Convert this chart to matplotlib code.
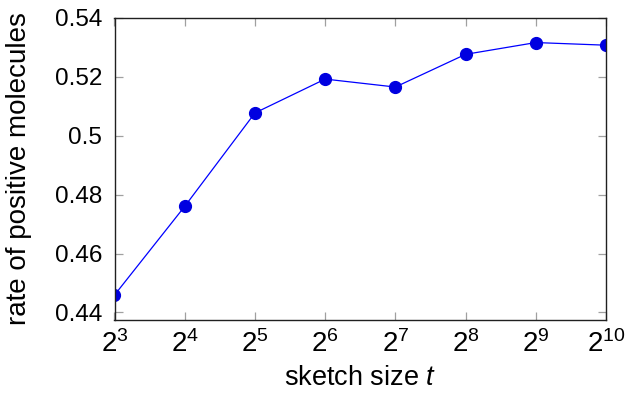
import matplotlib
matplotlib.use("Agg")
import matplotlib.pyplot as plt
from matplotlib.ticker import FixedLocator, FixedFormatter, NullLocator

plt.rcParams['font.family'] = ['Liberation Sans', 'DejaVu Sans']
plt.rcParams['mathtext.fontset'] = 'custom'
plt.rcParams['mathtext.rm'] = 'Liberation Sans'
plt.rcParams['mathtext.it'] = 'Liberation Sans:italic'

# sketch size exponents and measured rate
exponents = [3, 4, 5, 6, 7, 8, 9, 10]
rates = [0.4459, 0.4760, 0.5077, 0.5192, 0.5165, 0.5276, 0.5316, 0.5307]
y_ticks = [0.44, 0.46, 0.48, 0.50, 0.52, 0.54]
y_tick_labels = ['0.44', '0.46', '0.48', '0.5', '0.52', '0.54']

sizes = [2 ** e for e in exponents]

fig = plt.figure(figsize=(6.26, 3.93), dpi=100)
ax = fig.add_axes([114.5 / 626, 1 - 319.5 / 393, (606 - 114.5) / 626, (319.5 - 17.8) / 393])

ax.plot(sizes, rates, color='#0000ff', linewidth=0.9, marker='o',
        markersize=8.5, markerfacecolor='#0000e0', markeredgecolor='#0000e0')

ax.set_xscale('log', base=2)
ax.set_xlim(8, 1024)
ax.set_ylim(0.4376, 0.54)

ax.xaxis.set_major_locator(FixedLocator(sizes))
ax.xaxis.set_major_formatter(FixedFormatter(['$2^{%d}$' % e for e in exponents]))
ax.xaxis.set_minor_locator(NullLocator())
ax.yaxis.set_major_locator(FixedLocator(y_ticks))
ax.yaxis.set_major_formatter(FixedFormatter(y_tick_labels))

ax.tick_params(direction='in', length=6, width=0.9, color='#a0a0a0',
               top=True, right=True)
ax.tick_params(axis='y', labelsize=17.5, pad=9)
ax.tick_params(axis='x', labelsize=20, pad=8)
for s in ax.spines.values():
    s.set_linewidth(1.0)
    s.set_color('#202020')

ax.set_xlabel('sketch size $t$', fontsize=19.5, labelpad=5)
ax.set_ylabel('rate of positive molecules', fontsize=20)
ax.yaxis.set_label_coords(-82.5 / 491.5, 0.5)

fig.savefig('out.png', dpi=100)
